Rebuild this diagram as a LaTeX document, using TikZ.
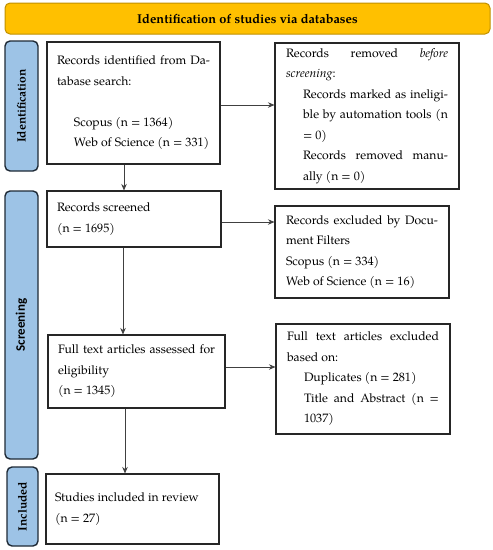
\documentclass[tikz,border=0pt]{standalone}
\usepackage{fontspec}
\setmainfont{TeX Gyre Pagella}
\newfontfamily\carlito{Carlito}
\usetikzlibrary{arrows.meta,calc}
\definecolor{bannerfill}{HTML}{FFC000}
\definecolor{bannerdraw}{HTML}{C09000}
\definecolor{sidefill}{HTML}{9DC3E6}
\definecolor{sidedraw}{HTML}{1F2A36}
\tikzset{
  boxtxt/.style={font=\fontsize{12.2}{20.5}\selectfont},
  box/.style={draw=black!85, line width=1.1pt, inner ysep=0pt, inner xsep=10pt, align=justify, boxtxt},
  side/.style={draw=sidedraw, fill=sidefill, line width=1.4pt, rounded corners=5pt},
  sidelab/.style={rotate=90, font=\fontsize{12}{14}\selectfont\bfseries},
  arr/.style={-{Stealth[length=6.5pt,width=5.5pt]}, line width=0.8pt, draw=black!75}
}
\begin{document}
\begin{tikzpicture}[x=1pt,y=-1pt]
\useasboundingbox (0,0) rectangle (493,550);
% banner
\node[draw=bannerdraw, fill=bannerfill, line width=1pt, rounded corners=5pt,
  minimum width=485pt, minimum height=31pt, font=\fontsize{12.8}{14}\selectfont\bfseries]
  (banner) at (247.5,18.5) {Identification of studies via databases};
% side boxes
\node[side, minimum width=33pt, minimum height=130pt] (sid) at (21.5,106) {};
\node[sidelab] at (sid.center) {Identification};
\node[side, minimum width=33pt, minimum height=268pt] (sscr) at (21.5,325) {};
\node[sidelab, font=\fontsize{13}{14}\carlito\bfseries] at (sscr.center) {Screening};
\node[side, minimum width=31pt, minimum height=79pt] (sinc) at (22.5,506.5) {};
\node[sidelab] at (sinc.center) {Included};
% boxes
\node[box, minimum width=173pt, minimum height=122pt, text width=153pt] (b1) at (133.5,103)
{Records identified from Da-\linebreak tabase search:\par
\mbox{}\par
\leftskip=17pt Scopus (n = 1364)\par
Web of Science (n = 331)\par};
\node[box, minimum width=184pt, minimum height=146pt, inner xsep=11pt, text width=162pt] (b2) at (367,116)
{Records removed \emph{before}\linebreak \emph{screening}:\par
\leftskip=17pt Records marked as ineligi-\linebreak ble by automation tools (n\linebreak = 0)\par
Records removed manu-\linebreak ally (n = 0)\par};
\node[box, minimum width=174pt, minimum height=56pt, text width=154pt] (b3) at (134,219)
{Records screened\par (n = 1695)\par};
\node[box, minimum width=174pt, minimum height=92pt, inner xsep=11pt, text width=152pt] (b4) at (362,252)
{Records excluded by Docu-\linebreak ment Filters\par
Scopus (n = 334)\par
Web of Science (n = 16)\par};
\node[box, minimum width=177pt, minimum height=73pt, text width=157pt] (b5) at (136.5,371.5)
{Full text articles assessed for\linebreak eligibility\newline (n = 1345)\par};
\node[box, minimum width=174pt, minimum height=110pt, inner xsep=11pt, text width=152pt] (b6) at (363,379)
{Full text articles excluded\linebreak based on:\par
\leftskip=17pt Duplicates (n = 281)\par
Title and Abstract (n =\linebreak 1037)\par};
\node[box, minimum width=173pt, minimum height=70pt, inner xsep=9pt, text width=155pt] (b7) at (132.5,509)
{Studies included in review\par (n = 27)\par};
% arrows
\draw[arr] ([yshift=-2pt]b1.east) -- ([yshift=-2pt]b1.east -| b2.west);
\draw[arr] ([xshift=-9.5pt]b1.south) -- ([xshift=-9.5pt]b1.south |- b3.north);
\draw[arr] ([yshift=-3pt]b3.east) -- ([yshift=-3pt]b3.east -| b4.west);
\draw[arr] ([xshift=-11pt]b3.south) -- ([xshift=-11pt]b3.south |- b5.north);
\draw[arr] ([yshift=4.5pt]b5.east) -- ([yshift=4.5pt]b5.east -| b6.west);
\draw[arr] ([xshift=-11.5pt]b5.south) -- ([xshift=-11.5pt]b5.south |- b7.north);
\end{tikzpicture}
\end{document}
